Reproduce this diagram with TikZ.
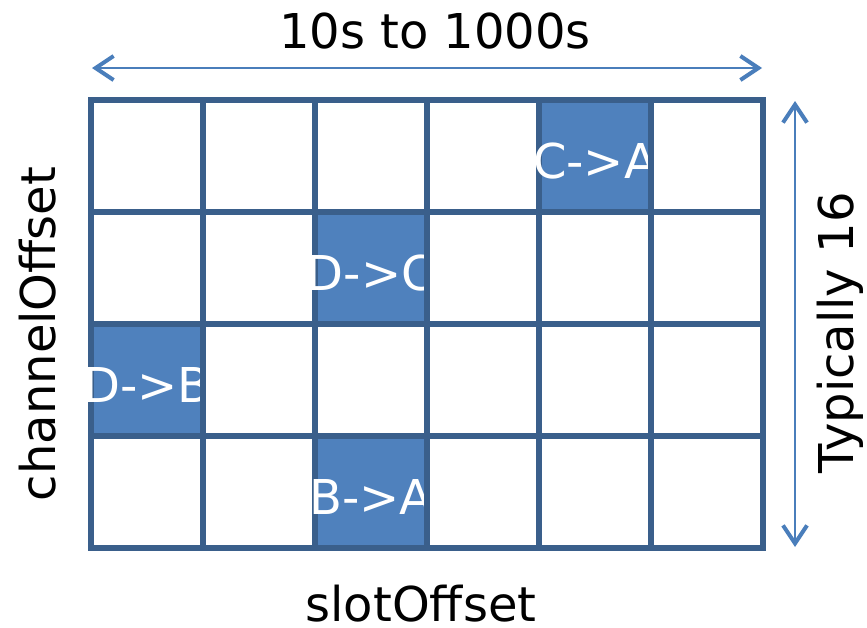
\documentclass[tikz,border=0pt]{standalone}
\usepackage{fontspec}
\setmainfont{DejaVu Sans}
\usetikzlibrary{arrows.meta}
\definecolor{gridline}{HTML}{3A5F8B}
\definecolor{cellfill}{HTML}{4F81BD}
\definecolor{arrowcol}{HTML}{4A7EBB}
\tikzset{
  cell/.style={draw=gridline, line width=5.5pt, minimum width=112pt, minimum height=112pt, inner sep=0pt, outer sep=0pt, fill=white},
  busy/.style={cell, fill=cellfill},
  celltext/.style={anchor=base, text=white, font=\fontsize{48}{58}\selectfont, inner sep=0pt},
  label/.style={anchor=base, text=black, font=\fontsize{48}{58}\selectfont, inner sep=0pt},
  chevron/.tip={Straight Barb[line width=4pt, length=18pt, width=24pt]},
  span/.style={draw=arrowcol, line width=2.5pt, chevron-chevron}
}
\begin{document}
\begin{tikzpicture}[x=1pt, y=-1pt]
\useasboundingbox[fill=white] (0,0) rectangle (867,627);
% row 0
\node[cell] (c00) at (147,156) {};
\node[cell] (c01) at (259,156) {};
\node[cell] (c02) at (371,156) {};
\node[cell] (c03) at (483,156) {};
\node[busy] (c04) at (595,156) {};
\node[celltext] (t04) at (595,178) {C->A};
\node[cell] (c05) at (707,156) {};
% row 1
\node[cell] (c10) at (147,268) {};
\node[cell] (c11) at (259,268) {};
\node[busy] (c12) at (371,268) {};
\node[celltext] (t12) at (371,290) {D->C};
\node[cell] (c13) at (483,268) {};
\node[cell] (c14) at (595,268) {};
\node[cell] (c15) at (707,268) {};
% row 2
\node[busy] (c20) at (147,380) {};
\node[celltext] (t20) at (147,402) {D->B};
\node[cell] (c21) at (259,380) {};
\node[cell] (c22) at (371,380) {};
\node[cell] (c23) at (483,380) {};
\node[cell] (c24) at (595,380) {};
\node[cell] (c25) at (707,380) {};
% row 3
\node[cell] (c30) at (147,492) {};
\node[cell] (c31) at (259,492) {};
\node[busy] (c32) at (371,492) {};
\node[celltext] (t32) at (371,514) {B->A};
\node[cell] (c33) at (483,492) {};
\node[cell] (c34) at (595,492) {};
\node[cell] (c35) at (707,492) {};
% arrows
\coordinate (hl) at (92,68);
\coordinate (hr) at (762,68);
\coordinate (vt) at (795,101);
\coordinate (vb) at (795,547);
\draw[span] (hl) -- (hr);
\draw[span] (vt) -- (vb);
% labels
\node[label] (title) at (435,48) {10s to 1000s};
\node[label] (xlab) at (421,621) {slotOffset};
\node[label, rotate=90] (ylab) at (55,334) {channelOffset};
\node[label, rotate=90] (rlab) at (853,333) {Typically 16};
\end{tikzpicture}
\end{document}
